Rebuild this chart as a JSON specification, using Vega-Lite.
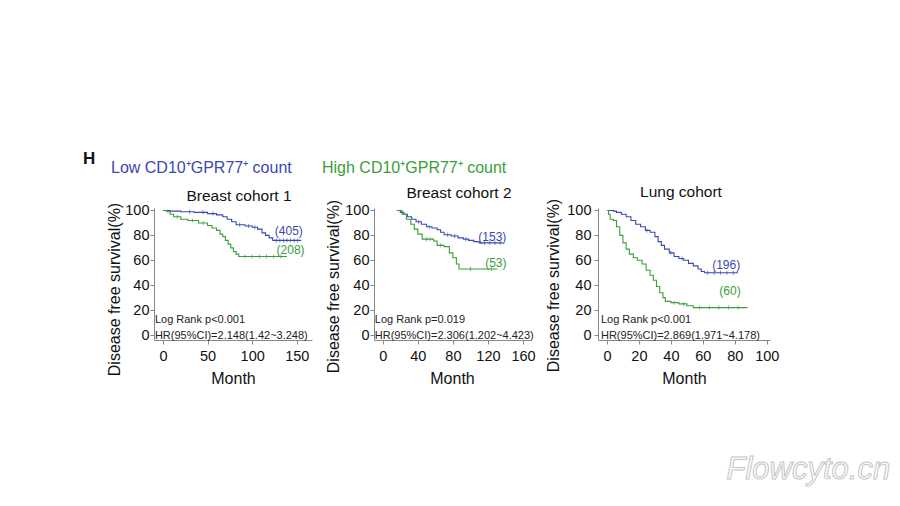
{
  "$schema": "https://vega.github.io/schema/vega-lite/v6.json",
  "autosize": {"type": "pad"},
  "padding": {"left": 83, "top": 150, "right": 5, "bottom": 5},
  "background": "white",
  "title": {"text": "H", "anchor": "start", "frame": "group", "dx": -71, "offset": -8, "fontSize": 17, "fontWeight": "bold", "font": "Liberation Sans", "color": "#111"},
  "datasets": {
    "curves": [
      {"cohort": "B1", "group": "Low", "month": 0, "surv": 100},
      {"cohort": "B1", "group": "Low", "month": 8, "surv": 99.5},
      {"cohort": "B1", "group": "Low", "month": 20, "surv": 99},
      {"cohort": "B1", "group": "Low", "month": 35, "surv": 98.5},
      {"cohort": "B1", "group": "Low", "month": 50, "surv": 97.5},
      {"cohort": "B1", "group": "Low", "month": 60, "surv": 96.5},
      {"cohort": "B1", "group": "Low", "month": 67, "surv": 95},
      {"cohort": "B1", "group": "Low", "month": 72, "surv": 93},
      {"cohort": "B1", "group": "Low", "month": 77, "surv": 91},
      {"cohort": "B1", "group": "Low", "month": 82, "surv": 88.5},
      {"cohort": "B1", "group": "Low", "month": 92, "surv": 87.5},
      {"cohort": "B1", "group": "Low", "month": 100, "surv": 86.5},
      {"cohort": "B1", "group": "Low", "month": 106, "surv": 85},
      {"cohort": "B1", "group": "Low", "month": 111, "surv": 82},
      {"cohort": "B1", "group": "Low", "month": 115, "surv": 80},
      {"cohort": "B1", "group": "Low", "month": 119, "surv": 78},
      {"cohort": "B1", "group": "Low", "month": 123, "surv": 76},
      {"cohort": "B1", "group": "Low", "month": 155, "surv": 76},
      {"cohort": "B1", "group": "High", "month": 0, "surv": 100},
      {"cohort": "B1", "group": "High", "month": 4, "surv": 99},
      {"cohort": "B1", "group": "High", "month": 8, "surv": 97},
      {"cohort": "B1", "group": "High", "month": 12, "surv": 95},
      {"cohort": "B1", "group": "High", "month": 20, "surv": 93},
      {"cohort": "B1", "group": "High", "month": 28, "surv": 92},
      {"cohort": "B1", "group": "High", "month": 40, "surv": 90},
      {"cohort": "B1", "group": "High", "month": 50, "surv": 88},
      {"cohort": "B1", "group": "High", "month": 55, "surv": 86},
      {"cohort": "B1", "group": "High", "month": 60, "surv": 84},
      {"cohort": "B1", "group": "High", "month": 64, "surv": 81},
      {"cohort": "B1", "group": "High", "month": 67, "surv": 79},
      {"cohort": "B1", "group": "High", "month": 70, "surv": 76},
      {"cohort": "B1", "group": "High", "month": 73, "surv": 73},
      {"cohort": "B1", "group": "High", "month": 76, "surv": 70},
      {"cohort": "B1", "group": "High", "month": 79, "surv": 67},
      {"cohort": "B1", "group": "High", "month": 82, "surv": 65},
      {"cohort": "B1", "group": "High", "month": 85, "surv": 63},
      {"cohort": "B1", "group": "High", "month": 139, "surv": 63},
      {"cohort": "B2", "group": "Low", "month": 16, "surv": 100},
      {"cohort": "B2", "group": "Low", "month": 20, "surv": 98.5},
      {"cohort": "B2", "group": "Low", "month": 24, "surv": 97},
      {"cohort": "B2", "group": "Low", "month": 28, "surv": 95},
      {"cohort": "B2", "group": "Low", "month": 33, "surv": 93},
      {"cohort": "B2", "group": "Low", "month": 38, "surv": 91},
      {"cohort": "B2", "group": "Low", "month": 44, "surv": 89},
      {"cohort": "B2", "group": "Low", "month": 50, "surv": 87},
      {"cohort": "B2", "group": "Low", "month": 56, "surv": 86},
      {"cohort": "B2", "group": "Low", "month": 62, "surv": 84.5},
      {"cohort": "B2", "group": "Low", "month": 66, "surv": 82.5},
      {"cohort": "B2", "group": "Low", "month": 70, "surv": 80.5},
      {"cohort": "B2", "group": "Low", "month": 78, "surv": 79.5},
      {"cohort": "B2", "group": "Low", "month": 86, "surv": 78},
      {"cohort": "B2", "group": "Low", "month": 92, "surv": 77},
      {"cohort": "B2", "group": "Low", "month": 98, "surv": 76},
      {"cohort": "B2", "group": "Low", "month": 104, "surv": 75},
      {"cohort": "B2", "group": "Low", "month": 110, "surv": 74},
      {"cohort": "B2", "group": "Low", "month": 137, "surv": 74},
      {"cohort": "B2", "group": "High", "month": 16, "surv": 100},
      {"cohort": "B2", "group": "High", "month": 22, "surv": 97},
      {"cohort": "B2", "group": "High", "month": 27, "surv": 93},
      {"cohort": "B2", "group": "High", "month": 32, "surv": 89},
      {"cohort": "B2", "group": "High", "month": 36, "surv": 85},
      {"cohort": "B2", "group": "High", "month": 40, "surv": 81},
      {"cohort": "B2", "group": "High", "month": 45, "surv": 77},
      {"cohort": "B2", "group": "High", "month": 58, "surv": 75.5},
      {"cohort": "B2", "group": "High", "month": 62, "surv": 72},
      {"cohort": "B2", "group": "High", "month": 70, "surv": 71},
      {"cohort": "B2", "group": "High", "month": 76, "surv": 66},
      {"cohort": "B2", "group": "High", "month": 80, "surv": 62},
      {"cohort": "B2", "group": "High", "month": 84, "surv": 57},
      {"cohort": "B2", "group": "High", "month": 87, "surv": 53},
      {"cohort": "B2", "group": "High", "month": 131, "surv": 53},
      {"cohort": "L", "group": "Low", "month": 0, "surv": 100},
      {"cohort": "L", "group": "Low", "month": 4, "surv": 99.5},
      {"cohort": "L", "group": "Low", "month": 6, "surv": 98.5},
      {"cohort": "L", "group": "Low", "month": 9, "surv": 97},
      {"cohort": "L", "group": "Low", "month": 12, "surv": 95},
      {"cohort": "L", "group": "Low", "month": 15, "surv": 92},
      {"cohort": "L", "group": "Low", "month": 18, "surv": 89},
      {"cohort": "L", "group": "Low", "month": 21, "surv": 87},
      {"cohort": "L", "group": "Low", "month": 24, "surv": 84},
      {"cohort": "L", "group": "Low", "month": 27, "surv": 82.5},
      {"cohort": "L", "group": "Low", "month": 30, "surv": 79},
      {"cohort": "L", "group": "Low", "month": 32, "surv": 75},
      {"cohort": "L", "group": "Low", "month": 34, "surv": 72},
      {"cohort": "L", "group": "Low", "month": 36, "surv": 69},
      {"cohort": "L", "group": "Low", "month": 39, "surv": 66},
      {"cohort": "L", "group": "Low", "month": 42, "surv": 63},
      {"cohort": "L", "group": "Low", "month": 45, "surv": 61.5},
      {"cohort": "L", "group": "Low", "month": 48, "surv": 60},
      {"cohort": "L", "group": "Low", "month": 51, "surv": 57.5},
      {"cohort": "L", "group": "Low", "month": 54, "surv": 55.5},
      {"cohort": "L", "group": "Low", "month": 57, "surv": 53},
      {"cohort": "L", "group": "Low", "month": 59, "surv": 51},
      {"cohort": "L", "group": "Low", "month": 61, "surv": 50},
      {"cohort": "L", "group": "Low", "month": 82, "surv": 50},
      {"cohort": "L", "group": "High", "month": 0, "surv": 100},
      {"cohort": "L", "group": "High", "month": 1, "surv": 97},
      {"cohort": "L", "group": "High", "month": 2, "surv": 93},
      {"cohort": "L", "group": "High", "month": 4, "surv": 92},
      {"cohort": "L", "group": "High", "month": 6, "surv": 87},
      {"cohort": "L", "group": "High", "month": 8, "surv": 80},
      {"cohort": "L", "group": "High", "month": 10, "surv": 74},
      {"cohort": "L", "group": "High", "month": 12, "surv": 69},
      {"cohort": "L", "group": "High", "month": 14, "surv": 65},
      {"cohort": "L", "group": "High", "month": 16.5, "surv": 62},
      {"cohort": "L", "group": "High", "month": 19, "surv": 60},
      {"cohort": "L", "group": "High", "month": 22, "surv": 57},
      {"cohort": "L", "group": "High", "month": 24.5, "surv": 52},
      {"cohort": "L", "group": "High", "month": 27, "surv": 48},
      {"cohort": "L", "group": "High", "month": 29, "surv": 44},
      {"cohort": "L", "group": "High", "month": 31, "surv": 39},
      {"cohort": "L", "group": "High", "month": 33, "surv": 34},
      {"cohort": "L", "group": "High", "month": 35, "surv": 30},
      {"cohort": "L", "group": "High", "month": 36.5, "surv": 27},
      {"cohort": "L", "group": "High", "month": 40, "surv": 26},
      {"cohort": "L", "group": "High", "month": 45, "surv": 25},
      {"cohort": "L", "group": "High", "month": 50, "surv": 23.5},
      {"cohort": "L", "group": "High", "month": 54, "surv": 22},
      {"cohort": "L", "group": "High", "month": 88, "surv": 22}
    ],
    "censor": [
      {"cohort": "B1", "group": "Low", "month": 30, "surv": 99},
      {"cohort": "B1", "group": "Low", "month": 45, "surv": 98.5},
      {"cohort": "B1", "group": "Low", "month": 56, "surv": 97.5},
      {"cohort": "B1", "group": "Low", "month": 86, "surv": 88.5},
      {"cohort": "B1", "group": "Low", "month": 96, "surv": 87.5},
      {"cohort": "B1", "group": "Low", "month": 103, "surv": 86.5},
      {"cohort": "B1", "group": "Low", "month": 127, "surv": 76},
      {"cohort": "B1", "group": "Low", "month": 131, "surv": 76},
      {"cohort": "B1", "group": "Low", "month": 135, "surv": 76},
      {"cohort": "B1", "group": "Low", "month": 139, "surv": 76},
      {"cohort": "B1", "group": "Low", "month": 143, "surv": 76},
      {"cohort": "B1", "group": "Low", "month": 147, "surv": 76},
      {"cohort": "B1", "group": "Low", "month": 151, "surv": 76},
      {"cohort": "B1", "group": "High", "month": 16, "surv": 95},
      {"cohort": "B1", "group": "High", "month": 33, "surv": 92},
      {"cohort": "B1", "group": "High", "month": 45, "surv": 90},
      {"cohort": "B1", "group": "High", "month": 92, "surv": 63},
      {"cohort": "B1", "group": "High", "month": 100, "surv": 63},
      {"cohort": "B1", "group": "High", "month": 108, "surv": 63},
      {"cohort": "B1", "group": "High", "month": 116, "surv": 63},
      {"cohort": "B1", "group": "High", "month": 124, "surv": 63},
      {"cohort": "B1", "group": "High", "month": 132, "surv": 63},
      {"cohort": "B2", "group": "Low", "month": 41, "surv": 91},
      {"cohort": "B2", "group": "Low", "month": 53, "surv": 87},
      {"cohort": "B2", "group": "Low", "month": 74, "surv": 80.5},
      {"cohort": "B2", "group": "Low", "month": 82, "surv": 79.5},
      {"cohort": "B2", "group": "Low", "month": 95, "surv": 77},
      {"cohort": "B2", "group": "Low", "month": 116, "surv": 74},
      {"cohort": "B2", "group": "Low", "month": 122, "surv": 74},
      {"cohort": "B2", "group": "Low", "month": 128, "surv": 74},
      {"cohort": "B2", "group": "Low", "month": 134, "surv": 74},
      {"cohort": "B2", "group": "High", "month": 50, "surv": 77},
      {"cohort": "B2", "group": "High", "month": 54, "surv": 77},
      {"cohort": "B2", "group": "High", "month": 66, "surv": 72},
      {"cohort": "B2", "group": "High", "month": 100, "surv": 53},
      {"cohort": "B2", "group": "High", "month": 124, "surv": 53},
      {"cohort": "L", "group": "Low", "month": 25, "surv": 84},
      {"cohort": "L", "group": "Low", "month": 40, "surv": 66},
      {"cohort": "L", "group": "Low", "month": 47, "surv": 61.5},
      {"cohort": "L", "group": "Low", "month": 63, "surv": 50},
      {"cohort": "L", "group": "Low", "month": 67, "surv": 50},
      {"cohort": "L", "group": "Low", "month": 71, "surv": 50},
      {"cohort": "L", "group": "Low", "month": 75, "surv": 50},
      {"cohort": "L", "group": "Low", "month": 79, "surv": 50},
      {"cohort": "L", "group": "High", "month": 42, "surv": 26},
      {"cohort": "L", "group": "High", "month": 48, "surv": 25},
      {"cohort": "L", "group": "High", "month": 58, "surv": 22},
      {"cohort": "L", "group": "High", "month": 64, "surv": 22},
      {"cohort": "L", "group": "High", "month": 70, "surv": 22},
      {"cohort": "L", "group": "High", "month": 76, "surv": 22},
      {"cohort": "L", "group": "High", "month": 82, "surv": 22}
    ],
    "labels": [
      {"cohort": "B1", "group": "Low", "month": 141, "surv": 83.5, "text": "(405)"},
      {"cohort": "B1", "group": "High", "month": 143, "surv": 68.5, "text": "(208)"},
      {"cohort": "B2", "group": "Low", "month": 125, "surv": 79, "text": "(153)"},
      {"cohort": "B2", "group": "High", "month": 129, "surv": 57.8, "text": "(53)"},
      {"cohort": "L", "group": "Low", "month": 74.6, "surv": 56.5, "text": "(196)"},
      {"cohort": "L", "group": "High", "month": 77, "surv": 35.5, "text": "(60)"}
    ],
    "stats": [
      {"cohort": "B1", "month": -9, "surv": 12, "text": "Log Rank p<0.001"},
      {"cohort": "B1", "month": -9, "surv": -0.8, "text": "HR(95%CI)=2.148(1.42~3.248)"},
      {"cohort": "B2", "month": -9.1, "surv": 12, "text": "Log Rank p=0.019"},
      {"cohort": "B2", "month": -9.1, "surv": -0.8, "text": "HR(95%CI)=2.306(1.202~4.423)"},
      {"cohort": "L", "month": -3.75, "surv": 12, "text": "Log Rank p<0.001"},
      {"cohort": "L", "month": -3.75, "surv": -0.8, "text": "HR(95%CI)=2.869(1.971~4.178)"}
    ],
    "mark": [
      {"month": 126, "surv": -108, "text": "Flowcyto.cn"}
    ]
  },
  "spacing": 62,
  "bounds": "flush",
  "resolve": {"scale": {"color": "shared"}, "legend": {"color": "shared"}},
  "hconcat": [
    {
      "width": 158, "height": 132,
      "title": {"text": "Breast cohort 1", "dx": 6, "offset": -2},
      "layer": [
        {
          "data": {"name": "curves"},
          "transform": [{"filter": "datum.cohort == 'B1'"}],
          "mark": {"type": "line", "interpolate": "step-after", "strokeWidth": 1.1},
          "encoding": {
            "x": {"field": "month", "type": "quantitative", "scale": {"domain": [-10, 167], "nice": false, "zero": false}, "axis": {"values": [0, 50, 100, 150], "tickCount": 20, "title": "Month", "labelOverlap": false, "labelFlush": false}},
            "y": {"field": "surv", "type": "quantitative", "scale": {"domain": [-4, 102], "nice": false, "zero": false}, "axis": {"values": [0, 20, 40, 60, 80, 100], "tickCount": 20, "title": "Disease free survival(%)", "titleX": -40, "titleY": 81, "labelOverlap": false, "labelFlush": false}},
            "color": {"field": "group", "type": "nominal", "scale": {"domain": ["Low", "High"], "range": ["#3b48b3", "#3a9e3a"]},
              "legend": {"orient": "none", "legendX": -59, "legendY": -48, "direction": "horizontal", "title": null, "labelFontSize": 16, "labelFont": "Liberation Sans", "symbolSize": 0, "symbolOpacity": 0, "symbolStrokeWidth": 0, "labelOffset": 0, "columnPadding": 14, "labelLimit": 400,
                "labelExpr": "datum.value == 'Low' ? 'Low CD10⁺GPR77⁺ count' : 'High CD10⁺GPR77⁺ count'",
                "encode": {"labels": {"update": {"fill": {"signal": "datum.value == 'Low' ? '#3b48b3' : '#3a9e3a'"}}}}}}
          }
        },
        {
          "data": {"name": "censor"},
          "transform": [{"filter": "datum.cohort == 'B1'"}],
          "mark": {"type": "tick", "orient": "vertical", "size": 4, "thickness": 1},
          "encoding": {
            "x": {"field": "month", "type": "quantitative"},
            "y": {"field": "surv", "type": "quantitative"},
            "color": {"field": "group", "type": "nominal"}
          }
        },
        {
          "data": {"name": "labels"},
          "transform": [{"filter": "datum.cohort == 'B1'"}],
          "mark": {"type": "text", "fontSize": 12, "font": "Liberation Sans"},
          "encoding": {
            "x": {"field": "month", "type": "quantitative"},
            "y": {"field": "surv", "type": "quantitative"},
            "text": {"field": "text"},
            "color": {"field": "group", "type": "nominal"}
          }
        },
        {
          "data": {"name": "stats"},
          "transform": [{"filter": "datum.cohort == 'B1'"}],
          "mark": {"type": "text", "fontSize": 11, "align": "left", "font": "Liberation Sans", "color": "#222"},
          "encoding": {
            "x": {"field": "month", "type": "quantitative"},
            "y": {"field": "surv", "type": "quantitative"},
            "text": {"field": "text"}
          }
        }
      ]
    },
    {
      "spacing": 68,
      "bounds": "flush",
      "resolve": {"scale": {"color": "shared"}, "legend": {"color": "shared"}},
      "hconcat": [
        {
          "width": 156, "height": 132,
          "title": {"text": "Breast cohort 2", "dx": 7, "offset": -2},
          "layer": [
            {
              "data": {"name": "curves"},
              "transform": [{"filter": "datum.cohort == 'B2'"}],
              "mark": {"type": "line", "interpolate": "step-after", "strokeWidth": 1.1},
              "encoding": {
                "x": {"field": "month", "type": "quantitative", "scale": {"domain": [-10, 168], "nice": false, "zero": false}, "axis": {"values": [0, 40, 80, 120, 160], "tickCount": 20, "title": "Month", "labelOverlap": false, "labelFlush": false}},
                "y": {"field": "surv", "type": "quantitative", "scale": {"domain": [-4, 102], "nice": false, "zero": false}, "axis": {"values": [0, 20, 40, 60, 80, 100], "tickCount": 20, "title": "Disease free survival(%)", "titleX": -41, "titleY": 78, "labelOverlap": false, "labelFlush": false}},
                "color": {"field": "group", "type": "nominal"}
              }
            },
            {
              "data": {"name": "censor"},
              "transform": [{"filter": "datum.cohort == 'B2'"}],
              "mark": {"type": "tick", "orient": "vertical", "size": 4, "thickness": 1},
              "encoding": {
                "x": {"field": "month", "type": "quantitative"},
                "y": {"field": "surv", "type": "quantitative"},
                "color": {"field": "group", "type": "nominal"}
              }
            },
            {
              "data": {"name": "labels"},
              "transform": [{"filter": "datum.cohort == 'B2'"}],
              "mark": {"type": "text", "fontSize": 12, "font": "Liberation Sans"},
              "encoding": {
                "x": {"field": "month", "type": "quantitative"},
                "y": {"field": "surv", "type": "quantitative"},
                "text": {"field": "text"},
                "color": {"field": "group", "type": "nominal"}
              }
            },
            {
              "data": {"name": "stats"},
              "transform": [{"filter": "datum.cohort == 'B2'"}],
              "mark": {"type": "text", "fontSize": 11, "align": "left", "font": "Liberation Sans", "color": "#222"},
              "encoding": {
                "x": {"field": "month", "type": "quantitative"},
                "y": {"field": "surv", "type": "quantitative"},
                "text": {"field": "text"}
              }
            }
          ]
        },
        {
          "width": 172, "height": 132,
          "title": {"text": "Lung cohort", "dx": -3, "offset": -2},
          "layer": [
            {
              "data": {"name": "curves"},
              "transform": [{"filter": "datum.cohort == 'L'"}],
              "mark": {"type": "line", "interpolate": "step-after", "strokeWidth": 1.1},
              "encoding": {
                "x": {"field": "month", "type": "quantitative", "scale": {"domain": [-5.6, 102], "nice": false, "zero": false}, "axis": {"values": [0, 20, 40, 60, 80, 100], "tickCount": 20, "title": "Month", "labelOverlap": false, "labelFlush": false}},
                "y": {"field": "surv", "type": "quantitative", "scale": {"domain": [-4, 102], "nice": false, "zero": false}, "axis": {"values": [0, 20, 40, 60, 80, 100], "tickCount": 20, "title": "Disease free survival(%)", "titleX": -45, "titleY": 77, "labelPadding": 3, "labelOverlap": false, "labelFlush": false}},
                "color": {"field": "group", "type": "nominal"}
              }
            },
            {
              "data": {"name": "censor"},
              "transform": [{"filter": "datum.cohort == 'L'"}],
              "mark": {"type": "tick", "orient": "vertical", "size": 4, "thickness": 1},
              "encoding": {
                "x": {"field": "month", "type": "quantitative"},
                "y": {"field": "surv", "type": "quantitative"},
                "color": {"field": "group", "type": "nominal"}
              }
            },
            {
              "data": {"name": "labels"},
              "transform": [{"filter": "datum.cohort == 'L'"}],
              "mark": {"type": "text", "fontSize": 12, "font": "Liberation Sans"},
              "encoding": {
                "x": {"field": "month", "type": "quantitative"},
                "y": {"field": "surv", "type": "quantitative"},
                "text": {"field": "text"},
                "color": {"field": "group", "type": "nominal"}
              }
            },
            {
              "data": {"name": "stats"},
              "transform": [{"filter": "datum.cohort == 'L'"}],
              "mark": {"type": "text", "fontSize": 11, "align": "left", "font": "Liberation Sans", "color": "#222"},
              "encoding": {
                "x": {"field": "month", "type": "quantitative"},
                "y": {"field": "surv", "type": "quantitative"},
                "text": {"field": "text"}
              }
            },
            {
              "data": {"name": "mark"},
              "mark": {"type": "text", "fontSize": 31, "fontStyle": "italic", "font": "Liberation Sans", "fill": "white", "stroke": "#c4c4c4", "strokeWidth": 1},
              "encoding": {
                "x": {"field": "month", "type": "quantitative"},
                "y": {"field": "surv", "type": "quantitative"},
                "text": {"field": "text"}
              }
            }
          ]
        }
      ]
    }
  ],
  "config": {
    "view": {"stroke": null},
    "title": {"font": "Liberation Sans", "fontSize": 15.5, "fontWeight": "normal", "color": "#111"},
    "axis": {"domainColor": "#888", "tickColor": "#888", "labelFont": "Liberation Sans", "labelFontSize": 14.5, "labelColor": "#111", "titleFont": "Liberation Sans", "titleFontSize": 16, "titleFontWeight": "normal", "titleColor": "#111", "grid": false, "tickSize": 4, "labelPadding": 2},
    "axisY": {"titleAngle": -90, "titleBaseline": "middle", "titleAlign": "center", "labelPadding": 1},
    "axisX": {"titlePadding": 8, "labelPadding": 5}
  }
}
